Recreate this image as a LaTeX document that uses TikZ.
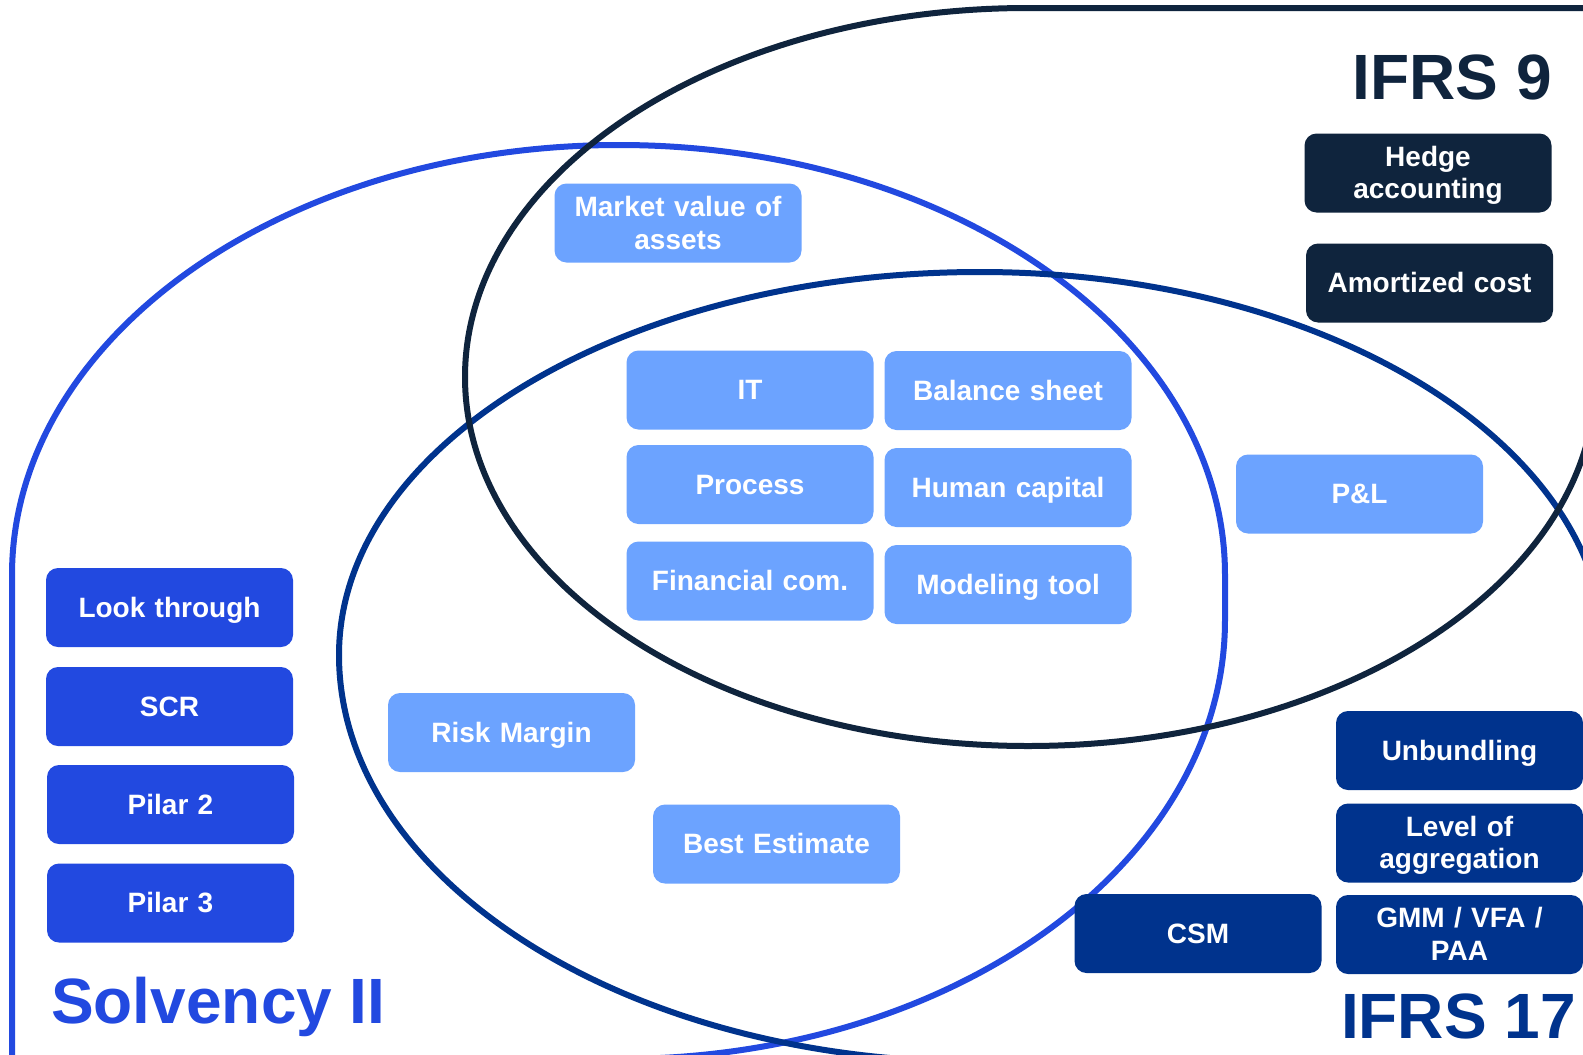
\documentclass[tikz,border=0pt]{standalone}
\usepackage{fontspec}
\setmainfont{Liberation Sans}
\definecolor{lightb}{HTML}{6CA3FF}
\definecolor{solv}{HTML}{2249E0}
\definecolor{navy}{HTML}{00338D}
\definecolor{darkn}{HTML}{0F243D}
\newcommand\boxstrut{\rule[-5.9pt]{0pt}{31.2pt}}
\begin{document}
\begin{tikzpicture}[x=1pt,y=-1pt,
  box/.style={rounded corners=12pt, minimum width=247pt, minimum height=79pt, inner sep=2pt,
    align=center, text width=240pt, text=white, font=\fontsize{28}{32.6}\selectfont\bfseries,
    execute at begin node=\boxstrut, execute at end node=\boxstrut},
  lbox/.style={box, fill=lightb},
  sbox/.style={box, fill=solv},
  nbox/.style={box, fill=navy},
  dbox/.style={box, fill=darkn},
  title/.style={font=\fontsize{64}{70}\selectfont\bfseries, inner sep=0pt},
  ring/.style={line width=6pt}
]
\useasboundingbox (0,0) rectangle (1583,1055);
\fill[white] (0,0) rectangle (1583,1055);
\clip (0,0) rectangle (1583,1055);

% Solvency II outline (teardrop, corner bottom-left)
\draw[ring, solv] (12,1059) -- (12,575)
  arc[start angle=180, end angle=270, x radius=607, y radius=430]
  arc[start angle=270, end angle=360, x radius=606, y radius=430]
  -- (1225,620)
  arc[start angle=0, end angle=90, x radius=606, y radius=439] -- cycle;

% IFRS 17 outline (teardrop, corner bottom-right)
\draw[ring, navy] (1605,1062) -- (1605,655)
  arc[start angle=0, end angle=-90, x radius=625, y radius=383]
  arc[start angle=270, end angle=180, x radius=641, y radius=383]
  arc[start angle=180, end angle=90, x radius=641, y radius=407] -- cycle;

% IFRS 9 outline (teardrop, corner top-right)
\draw[ring, darkn] (1596,8) -- (1028,8)
  arc[start angle=270, end angle=180, x radius=563, y radius=369]
  arc[start angle=180, end angle=90, x radius=563, y radius=369]
  arc[start angle=90, end angle=0, x radius=568, y radius=369] -- cycle;

% titles
\node[title, text=darkn, anchor=base east] (t9) at (1552,99) {IFRS 9};
\node[title, text=navy, anchor=base east] (t17) at (1576,1038) {IFRS 17};
\node[title, text=solv, anchor=base west] (tsol) at (51,1023) {Solvency II};

% IFRS 9 boxes
\node[dbox] (hedge) at (1428,173) {Hedge\\accounting};
\node[dbox] (amort) at (1429.5,283) {Amortized cost};

% light boxes
\node[lbox] (market) at (678,223) {Market value of\\assets};
\node[lbox] (it) at (750,390) {IT};
\node[lbox] (balance) at (1008,390.5) {Balance sheet};
\node[lbox] (process) at (750,484.5) {Process};
\node[lbox] (human) at (1008,487.5) {Human capital};
\node[lbox] (fin) at (750,581) {Financial com.};
\node[lbox] (model) at (1008,584.5) {Modeling tool};
\node[lbox] (pl) at (1359.5,494) {P\&L};
\node[lbox] (risk) at (511.5,732.5) {Risk Margin};
\node[lbox] (best) at (776.5,844) {Best Estimate};

% IFRS 17 boxes
\node[nbox] (csm) at (1198,933.5) {CSM};
\node[nbox] (unb) at (1459.5,750.5) {Unbundling};
\node[nbox] (level) at (1459.5,843) {Level of\\aggregation};
\node[nbox] (gmm) at (1459.5,934.5) {GMM / VFA /\\PAA};

% Solvency II boxes
\node[sbox] (look) at (169.5,607.5) {Look through};
\node[sbox] (scr) at (169.5,706.5) {SCR};
\node[sbox] (p2) at (170.5,804.5) {Pilar 2};
\node[sbox] (p3) at (170.5,903) {Pilar 3};
\end{tikzpicture}
\end{document}
